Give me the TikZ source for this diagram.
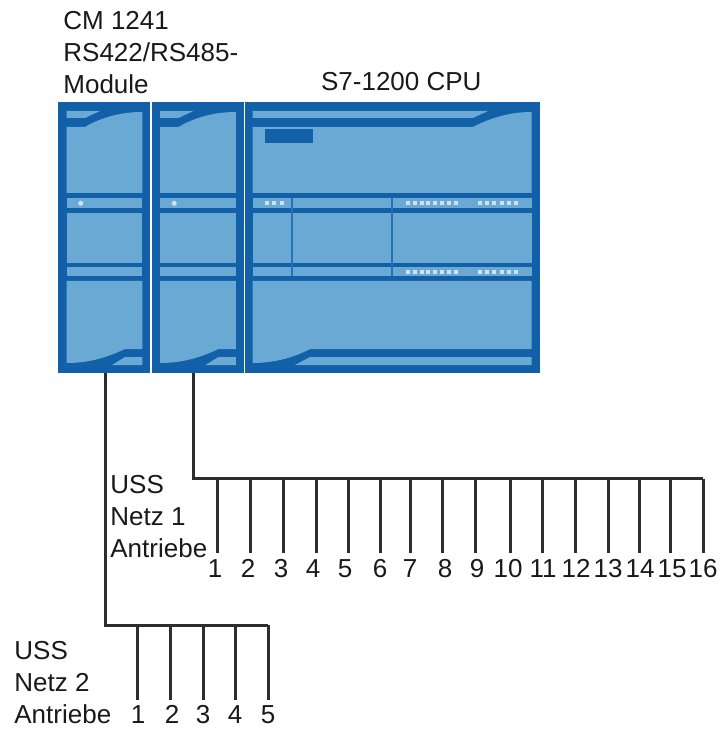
\documentclass[tikz,border=0pt]{standalone}
\usepackage{fontspec}
\setmainfont{Liberation Sans}
\usepackage{xcolor}
\usetikzlibrary{positioning,calc}
\definecolor{blaudunkel}{HTML}{1260A8}
\definecolor{blauhell}{HTML}{6BA9D5}
\definecolor{blaumittel}{HTML}{2474B5}
\definecolor{leitung}{HTML}{2E2C2D}
\definecolor{ledweiss}{HTML}{CFE0EF}

\begin{document}
\begin{tikzpicture}[x=0.5pt,y=-0.5pt,
    panel/.style={fill=blauhell},
    led/.style={fill=ledweiss},
    wire/.style={draw=leitung,line width=1.5pt,line join=miter},
    lbl/.style={font=\fontsize{13}{16}\selectfont,inner sep=0pt,text=black!90,align=left}]
  \useasboundingbox (0,0) rectangle (721,731);
  % narrow module, #1 = shift in x
  \def\modul#1{
    \begin{scope}[xshift=#1*0.5pt]
      \fill[blaudunkel] (58,102) rectangle (150,373);
      \fill[panel] (66.7,111) -- (100,111) -- (85,118) -- (66.7,118) -- cycle;
      \fill[panel] (66.7,127) -- (85,127) .. controls (100,118) and (120,112) .. (142.3,112) -- (142.3,193) -- (66.7,193) -- cycle;
      \fill[panel] (66.7,198) rectangle (142.3,208);
      \fill[panel] (66.7,213) rectangle (142.3,263);
      \fill[panel] (66.7,267) rectangle (142.3,276);
      \fill[panel] (66.7,281) -- (142.3,281) -- (142.3,349) -- (125,349) .. controls (108,357) and (90,363) .. (66.7,363) -- cycle;
      \fill[panel] (112,365) -- (125,357) -- (142.3,357) -- (142.3,365) -- cycle;
      \fill[led] (80.7,203.3) circle (2.5);
    \end{scope}
  }
  \modul{0}
  \modul{93.5}
  % CPU
  \fill[blaudunkel] (244.5,102) rectangle (540,373);
  \fill[panel] (252.7,111) -- (488,111) -- (473,118) -- (252.7,118) -- cycle;
  \fill[panel] (252.7,127) -- (473,127) .. controls (490,118) and (510,112) .. (531.7,112) -- (531.7,193) -- (252.7,193) -- cycle;
  \fill[blaudunkel] (265,129) rectangle (313,143);
  \fill[panel] (252.7,198) rectangle (531.7,208);
  \fill[panel] (252.7,213) rectangle (531.7,263);
  \fill[panel] (252.7,267) rectangle (531.7,276);
  \fill[panel] (252.7,281) -- (531.7,281) -- (531.7,349) -- (310,349) .. controls (295,357) and (275,363) .. (252.7,363) -- cycle;
  \fill[panel] (295,365) -- (310,357) -- (531.7,357) -- (531.7,365) -- cycle;
  \draw[blaumittel,line width=1pt] (291.7,198) -- (291.7,276);
  \draw[blaumittel,line width=1pt] (391.7,198) -- (391.7,276);
  \foreach \y in {203.3,271.7} {
    \foreach \x in {0,...,7} \fill[led] ({407.7+6.9*\x-2},\y-2) rectangle ++(4,4);
    \foreach \x in {0,...,5} \fill[led] ({480+7.2*\x-2},\y-2) rectangle ++(4,4);
  }
  \foreach \x in {266.7,274,281.7} \fill[led] (\x-2,203.3-2) rectangle ++(4,4);
  % labels on top
  \node[lbl,anchor=north west] (cmtext) at (63,11) {CM 1241\\RS422/RS485-\\Module};
  \node[lbl,anchor=base west] (cputext) at (320.7,91) {S7-1200 CPU};
  \node[lbl,anchor=north west] (netz1text) at (110,474.5) {USS\\Netz 1\\Antriebe};
  \node[lbl,anchor=north west] (netz2text) at (14,640.5) {USS\\Netz 2\\Antriebe};
  % USS networks
  \coordinate (cm1) at (105,373);
  \coordinate (cm2) at (193.3,373);
  \coordinate (bus1) at (193.3,478.7);
  \coordinate (bus1e) at (703,478.7);
  \coordinate (bus2) at (105,625);
  \coordinate (bus2e) at (268,625);
  \draw[wire] (cm2) -- (bus1) -- (bus1e);
  \draw[wire] (cm1) -- (bus2) -- (bus2e);
  \foreach \n/\x/\lx in {1/217.3/215,2/250/248,3/283/281,4/316/313,5/348/345,6/380/380,7/410/410,8/442.7/445,
      9/475/477,10/510.7/508,11/542.7/543,12/575.7/576,13/608.3/608,14/639.3/640,15/670.7/672,16/703/703} {
    \coordinate (a\n) at (\x,553);
    \node[lbl,anchor=base] (na\n) at (\lx,577) {\n};
    \draw[wire] (a\n |- bus1) -- (a\n);
  }
  \foreach \n/\x/\lx in {1/137/138,2/170/172,3/203/203,4/235.7/235,5/268/268} {
    \coordinate (b\n) at (\x,700);
    \node[lbl,anchor=base] (nb\n) at (\lx,723) {\n};
    \draw[wire] (b\n |- bus2) -- (b\n);
  }
\end{tikzpicture}
\end{document}
